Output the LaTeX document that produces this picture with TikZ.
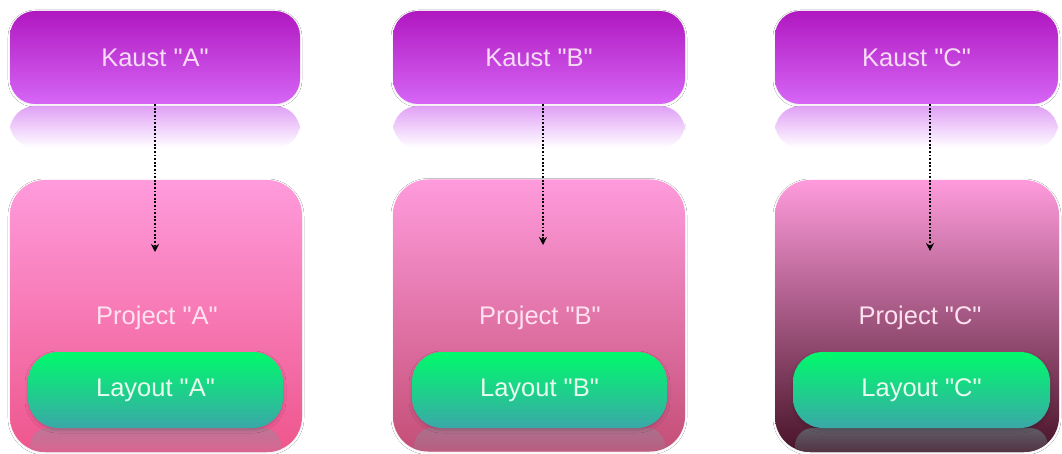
\documentclass[tikz,border=0pt]{standalone}
\usepackage{fontspec}
\setmainfont{Liberation Sans}[Ligatures=TeXOff]
\usetikzlibrary{arrows.meta,shadows.blur}
\definecolor{kTop}{RGB}{176,24,192}
\definecolor{kMid}{RGB}{195,60,220}
\definecolor{kBot}{RGB}{214,102,246}
\definecolor{kRefl}{RGB}{224,160,246}
\definecolor{pTop}{RGB}{255,155,220}
\definecolor{pAmid}{RGB}{250,125,185}
\definecolor{pAbot}{RGB}{238,86,140}
\definecolor{pBmid}{RGB}{228,115,170}
\definecolor{pBbot}{RGB}{196,78,118}
\definecolor{pCmid}{RGB}{178,92,140}
\definecolor{pCbot}{RGB}{72,20,40}
\definecolor{lTop}{RGB}{0,250,108}
\definecolor{lMid}{RGB}{28,208,140}
\definecolor{lBot}{RGB}{58,168,168}
\definecolor{txtK}{RGB}{248,220,246}
\definecolor{txtP}{RGB}{255,226,240}
\definecolor{txtL}{RGB}{232,252,238}
\begin{document}
\begin{tikzpicture}[x=1pt,y=-1pt,
  every node/.style={font=\fontsize{25.5}{30}\selectfont},
  kaustbox/.style={rounded corners=25pt, minimum width=#1, minimum height=93pt, inner sep=0pt,
    top color=kTop, middle color=kMid, bottom color=kBot, text=txtK,
    blur shadow={shadow xshift=0pt, shadow yshift=-1pt, shadow blur radius=2pt, shadow opacity=7}},
  projbox/.style={rounded corners=35pt, minimum width=#1, minimum height=272pt, inner sep=0pt,
    blur shadow={shadow xshift=0pt, shadow yshift=-1pt, shadow blur radius=2pt, shadow opacity=6}},
  layoutbox/.style={rounded corners=30pt, minimum width=#1, minimum height=76pt, inner sep=0pt,
    top color=lTop, middle color=lMid, bottom color=lBot, text=txtL,
    blur shadow={shadow xshift=0pt, shadow yshift=-2pt, shadow blur radius=3pt, shadow opacity=18}},
  ptext/.style={text=txtP, inner sep=0pt},
  link/.style={black, line width=1.3pt, dash pattern=on 1.8pt off 1.8pt,
    -{Stealth[length=8pt,width=8pt]}}
]
\useasboundingbox (0,0) rectangle (1062,454);
\fill[white] (0,0) rectangle (1062,454);

% ---------- project boxes ----------
\node[projbox=292pt, top color=pTop, middle color=pAmid, bottom color=pAbot] (pa) at (156,316) {};
\node[projbox=292pt, top color=pTop, middle color=pBmid, bottom color=pBbot] (pb) at (539,315.5) {};
\node[projbox=284pt, top color=pTop, middle color=pCmid, bottom color=pCbot] (pc) at (917,316) {};

% ---------- layout reflections ----------
\begin{scope}
  \clip[rounded corners=35pt] (10,180) rectangle (302,452);
  \shade[rounded corners=18pt, top color={rgb,255:red,190;green,118;blue,150}, bottom color=pAbot] (30,428) rectangle (281,470);
\end{scope}
\begin{scope}
  \clip[rounded corners=35pt] (393,180) rectangle (685,451);
  \shade[rounded corners=18pt, top color={rgb,255:red,172;green,112;blue,140}, bottom color=pBbot] (414,428) rectangle (665,470);
\end{scope}
\begin{scope}
  \clip[rounded corners=35pt] (775,180) rectangle (1059,452);
  \shade[rounded corners=18pt, top color={rgb,255:red,96;green,92;blue,104}, bottom color=pCbot] (795,428) rectangle (1048,470);
\end{scope}

% ---------- layout boxes ----------
\node[layoutbox=255pt] (la) at (155.5,390) {Layout "A"};
\node[layoutbox=255pt] (lb) at (539.5,390) {Layout "B"};
\node[layoutbox=257pt] (lc) at (921.5,390) {Layout "C"};

% ---------- project labels ----------
\node[ptext] (ta) at (157,318) {Project "A"};
\node[ptext] (tb) at (540,318) {Project "B"};
\node[ptext] (tc) at (920,318) {Project "C"};

% ---------- kaust reflections ----------
\shade[rounded corners=25pt, top color=kRefl, bottom color=white] (10,106) rectangle (300,148);
\shade[rounded corners=25pt, top color=kRefl, bottom color=white] (393,106) rectangle (685,148);
\shade[rounded corners=25pt, top color=kRefl, bottom color=white] (775,106) rectangle (1058,148);

% ---------- kaust boxes ----------
\node[kaustbox=290pt] (ka) at (155,57.5) {Kaust "A"};
\node[kaustbox=292pt] (kb) at (539,57.5) {Kaust "B"};
\node[kaustbox=283pt] (kc) at (916.5,57.5) {Kaust "C"};

% ---------- connectors ----------
\coordinate (ea) at (155,252);
\coordinate (eb) at (543,245);
\coordinate (ec) at (930,251);
\draw[link] (ka.south -| ea) -- (ea);
\draw[link] (kb.south -| eb) -- (eb);
\draw[link] (kc.south -| ec) -- (ec);
\end{tikzpicture}
\end{document}
